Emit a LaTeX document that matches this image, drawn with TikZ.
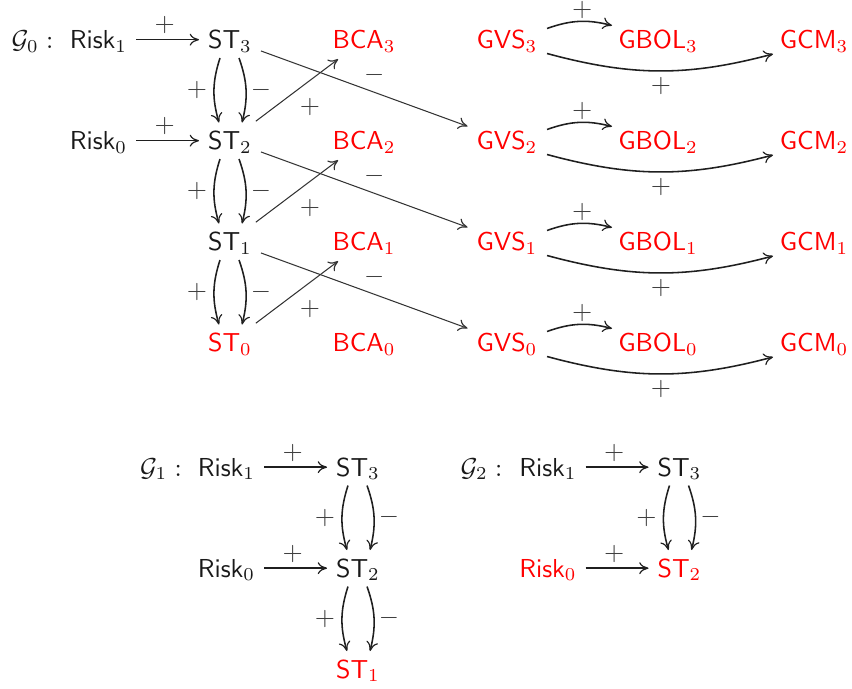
\documentclass[tikz,border=0pt]{standalone}
\usetikzlibrary{arrows.meta}
\begin{document}
\begin{tikzpicture}[x=0.385pt,y=-0.385pt,
  nd/.style={inner sep=3.3pt, text height=7.4pt, text depth=0.6pt, anchor=base, text=black!90},
  hot/.style={nd, text=red},
  lbl/.style={inner sep=0pt, anchor=center, text=black!75},
  ar/.style={-{Computer Modern Rightarrow[length=3.6pt,width=4.6pt,line width=0.45pt]}, line width=0.6pt, draw=black!88},
  dg/.style={ar, line width=0.4pt, draw=black!80}]
\useasboundingbox (0,0) rectangle (852,689);

% ---------- G0 ----------
\node[nd] (g0) at (32.5,48.5) {$\mathcal{G}_0 :$};
\node[nd] (r1) at (98.5,48.5) {$\mathsf{Risk}_1$};
\node[nd] (r0) at (98.5,149.5) {$\mathsf{Risk}_0$};
\node[nd] (st3) at (230,48.5) {$\mathsf{ST}_3$};
\node[nd] (st2) at (230,149.5) {$\mathsf{ST}_2$};
\node[nd] (st1) at (230,250.5) {$\mathsf{ST}_1$};
\node[hot] (st0) at (230,351.5) {$\mathsf{ST}_0$};
\node[hot] (bca3) at (364,48.5) {$\mathsf{BCA}_3$};
\node[hot] (bca2) at (364,149.5) {$\mathsf{BCA}_2$};
\node[hot] (bca1) at (364,250.5) {$\mathsf{BCA}_1$};
\node[hot] (bca0) at (364,351.5) {$\mathsf{BCA}_0$};
\node[hot] (gvs3) at (507,48.5) {$\mathsf{GVS}_3$};
\node[hot] (gvs2) at (507,149.5) {$\mathsf{GVS}_2$};
\node[hot] (gvs1) at (507,250.5) {$\mathsf{GVS}_1$};
\node[hot] (gvs0) at (507,351.5) {$\mathsf{GVS}_0$};
\node[hot] (gbol3) at (658,48.5) {$\mathsf{GBOL}_3$};
\node[hot] (gbol2) at (658,149.5) {$\mathsf{GBOL}_2$};
\node[hot] (gbol1) at (658,250.5) {$\mathsf{GBOL}_1$};
\node[hot] (gbol0) at (658,351.5) {$\mathsf{GBOL}_0$};
\node[hot] (gcm3) at (814,48.5) {$\mathsf{GCM}_3$};
\node[hot] (gcm2) at (814,149.5) {$\mathsf{GCM}_2$};
\node[hot] (gcm1) at (814,250.5) {$\mathsf{GCM}_1$};
\node[hot] (gcm0) at (814,351.5) {$\mathsf{GCM}_0$};

\draw[ar] (r1) -- node[lbl, shift={(-3,-14.5)}] {$+$} (st3);
\draw[ar] (r0) -- node[lbl, shift={(-3,-14.5)}] {$+$} (st2);

\foreach \a/\b in {st3/st2, st2/st1, st1/st0}{
  \draw[ar] ([shift={(-10,9.5)}]\a.base) to[bend right=17] node[lbl, shift={(-17,0)}] {$+$} ([shift={(-11,-27)}]\b.base);
  \draw[ar] ([shift={(9,9.5)}]\a.base) to[bend left=17] node[lbl, shift={(15,0)}] {$-$} ([shift={(12,-27)}]\b.base);
}

\draw[dg] (st2) -- node[lbl, shift={(13,16.5)}] {$+$} (bca3);
\draw[dg] (st1) -- node[lbl, shift={(13,16.5)}] {$+$} (bca2);
\draw[dg] (st0) -- node[lbl, shift={(13,16.5)}] {$+$} (bca1);
\draw[dg] (st3) -- node[lbl, shift={(10,-14)}] {$-$} (gvs2);
\draw[dg] (st2) -- node[lbl, shift={(10,-14)}] {$-$} (gvs1);
\draw[dg] (st1) -- node[lbl, shift={(10,-14)}] {$-$} (gvs0);

\foreach \k in {3,2,1,0}{
  \draw[ar] ([shift={(40,-20)}]gvs\k.base) to[bend left=17] node[lbl, shift={(3,-11)}] {$+$} ([shift={(-46,-23)}]gbol\k.base);
  \draw[ar] ([shift={(40,5)}]gvs\k.base) to[bend right=15] node[lbl, shift={(1,15)}] {$+$} ([shift={(-41,5.5)}]gcm\k.base);
}

% ---------- G1 ----------
\node[nd] (g1) at (161,476) {$\mathcal{G}_1 :$};
\node[nd] (br1) at (226.5,476) {$\mathsf{Risk}_1$};
\node[nd] (bst3) at (358,476) {$\mathsf{ST}_3$};
\node[nd] (br0) at (226.5,577) {$\mathsf{Risk}_0$};
\node[nd] (bst2) at (358,577) {$\mathsf{ST}_2$};
\node[hot] (bst1) at (358,678) {$\mathsf{ST}_1$};
\draw[ar] (br1) -- node[lbl, shift={(-3,-14.5)}] {$+$} (bst3);
\draw[ar] (br0) -- node[lbl, shift={(-3,-14.5)}] {$+$} (bst2);
\foreach \a/\b in {bst3/bst2, bst2/bst1}{
  \draw[ar] ([shift={(-10,9.5)}]\a.base) to[bend right=17] node[lbl, shift={(-17,0)}] {$+$} ([shift={(-11,-27)}]\b.base);
  \draw[ar] ([shift={(9,9.5)}]\a.base) to[bend left=17] node[lbl, shift={(15,0)}] {$-$} ([shift={(12,-27)}]\b.base);
}

% ---------- G2 ----------
\node[nd] (g2) at (481.5,476) {$\mathcal{G}_2 :$};
\node[nd] (cr1) at (548,476) {$\mathsf{Risk}_1$};
\node[nd] (cst3) at (679.5,476) {$\mathsf{ST}_3$};
\node[hot] (cr0) at (548,577) {$\mathsf{Risk}_0$};
\node[hot] (cst2) at (679.5,577) {$\mathsf{ST}_2$};
\draw[ar] (cr1) -- node[lbl, shift={(-3,-14.5)}] {$+$} (cst3);
\draw[ar] (cr0) -- node[lbl, shift={(-3,-14.5)}] {$+$} (cst2);
\draw[ar] ([shift={(-10,9.5)}]cst3.base) to[bend right=17] node[lbl, shift={(-17,0)}] {$+$} ([shift={(-11,-27)}]cst2.base);
\draw[ar] ([shift={(9,9.5)}]cst3.base) to[bend left=17] node[lbl, shift={(15,0)}] {$-$} ([shift={(12,-27)}]cst2.base);
\end{tikzpicture}
\end{document}
